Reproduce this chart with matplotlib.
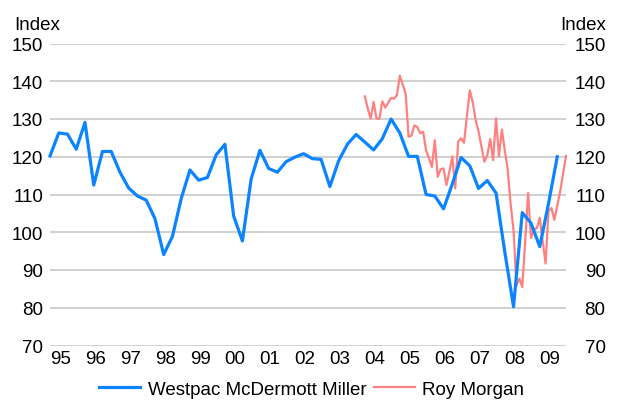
#!/usr/bin/env python3
"""NZ consumer confidence: Westpac McDermott Miller vs Roy Morgan."""

import numpy as np
import matplotlib
matplotlib.use('Agg')
import matplotlib.pyplot as plt

plt.rcParams['font.family'] = ['Liberation Sans', 'DejaVu Sans']

# Westpac McDermott Miller, quarterly from Mar 1995 to Sep 2009
westpac = [
    120.2, 126.3, 126.0, 122.0, 129.1, 112.5, 121.4, 121.4, 115.9, 111.7,
    109.6, 108.5, 103.6, 94.1, 98.9, 108.9, 116.5, 113.8, 114.5, 120.5,
    123.3, 104.3, 97.7, 114.1, 121.7, 116.9, 115.9, 118.7, 119.9, 120.8,
    119.5, 119.3, 112.1, 118.9, 123.3, 125.9, 123.9, 121.8, 124.8, 130.0,
    126.3, 120.1, 120.1, 110.0, 109.6, 106.2, 112.8, 119.8, 117.6, 111.6,
    113.7, 110.4, 94.8, 80.3, 105.2, 102.4, 96.2, 107.6, 120.0,
]

# Roy Morgan, monthly from Mar 2004 to Dec 2009
roy_morgan = [
    136.0, 132.8, 130.1, 134.5, 130.1, 130.1, 134.7, 133.0, 134.3, 135.6,
    135.4, 136.3, 141.5, 139.1, 136.7, 125.3, 125.6, 128.3, 127.9, 126.2,
    126.6, 121.7, 119.6, 117.3, 124.4, 114.7, 116.7, 116.9, 112.5, 116.1,
    120.1, 111.6, 124.0, 124.9, 123.7, 130.7, 137.6, 134.5, 129.7, 126.7,
    122.7, 118.7, 120.4, 124.7, 119.1, 130.2, 120.1, 127.2, 121.7, 116.6,
    107.6, 100.6, 85.9, 87.7, 85.5, 97.5, 110.4, 98.5, 100.7, 101.1,
    103.8, 97.6, 91.7, 105.6, 106.4, 103.3, 107.0, 110.8, 115.6, 120.2,
]

years = list(range(1995, 2010))
year_labels = [f"{y % 100:02d}" for y in years]
y_ticks = list(range(70, 151, 10))

# decimal-year positions (middle of the month)
x_westpac = 1995 + (3 * np.arange(len(westpac)) + 2.5) / 12
x_roy = 2004 + (np.arange(len(roy_morgan)) + 2.5) / 12

fig = plt.figure(figsize=(6.17, 4.02), dpi=100)
ax = fig.add_axes([50 / 617, 55.5 / 402, 516 / 617, 302 / 402])

ax.plot(x_westpac, westpac, color='#0a84ff', linewidth=2.3,
        label='Westpac McDermott Miller', zorder=3, clip_on=False)
ax.plot(x_roy, roy_morgan, color='#ff8080', linewidth=1.6,
        label='Roy Morgan', zorder=2, clip_on=False)

ax.set_xlim(x_westpac[0], x_roy[-1])
ax.set_ylim(70, 150)
ax.set_yticks(y_ticks)
ax.set_xticks([y + 0.5 for y in years])
ax.set_xticklabels(year_labels)
ax.grid(axis='y', color='#c8c8c8', linewidth=1.2)
ax.set_axisbelow(True)
for s in ax.spines.values():
    s.set_visible(False)
ax.tick_params(axis='both', length=0, labelsize=13.5)
ax.tick_params(axis='x', pad=3)
ax.tick_params(axis='y', pad=5)

# right-hand axis, labels right-aligned at the figure edge
ax2 = ax.twinx()
ax2.set_ylim(70, 150)
ax2.set_yticks(y_ticks)
for s in ax2.spines.values():
    s.set_visible(False)
ax2.tick_params(axis='y', length=0, labelsize=13.5, pad=28.5)
for lbl in ax2.get_yticklabels():
    lbl.set_horizontalalignment('right')

fig.text(14 / 617, 1 - 30 / 402, 'Index', fontsize=13.5, ha='left', va='baseline')
fig.text(606 / 617, 1 - 30 / 402, 'Index', fontsize=13.5, ha='right', va='baseline')

fig.legend(loc='center', bbox_to_anchor=(0.505, 1 - 390 / 402), ncol=2,
           frameon=False, fontsize=13.5, handlelength=2.2, handletextpad=0.4,
           columnspacing=0.4)

fig.savefig('out.png', dpi=100)
